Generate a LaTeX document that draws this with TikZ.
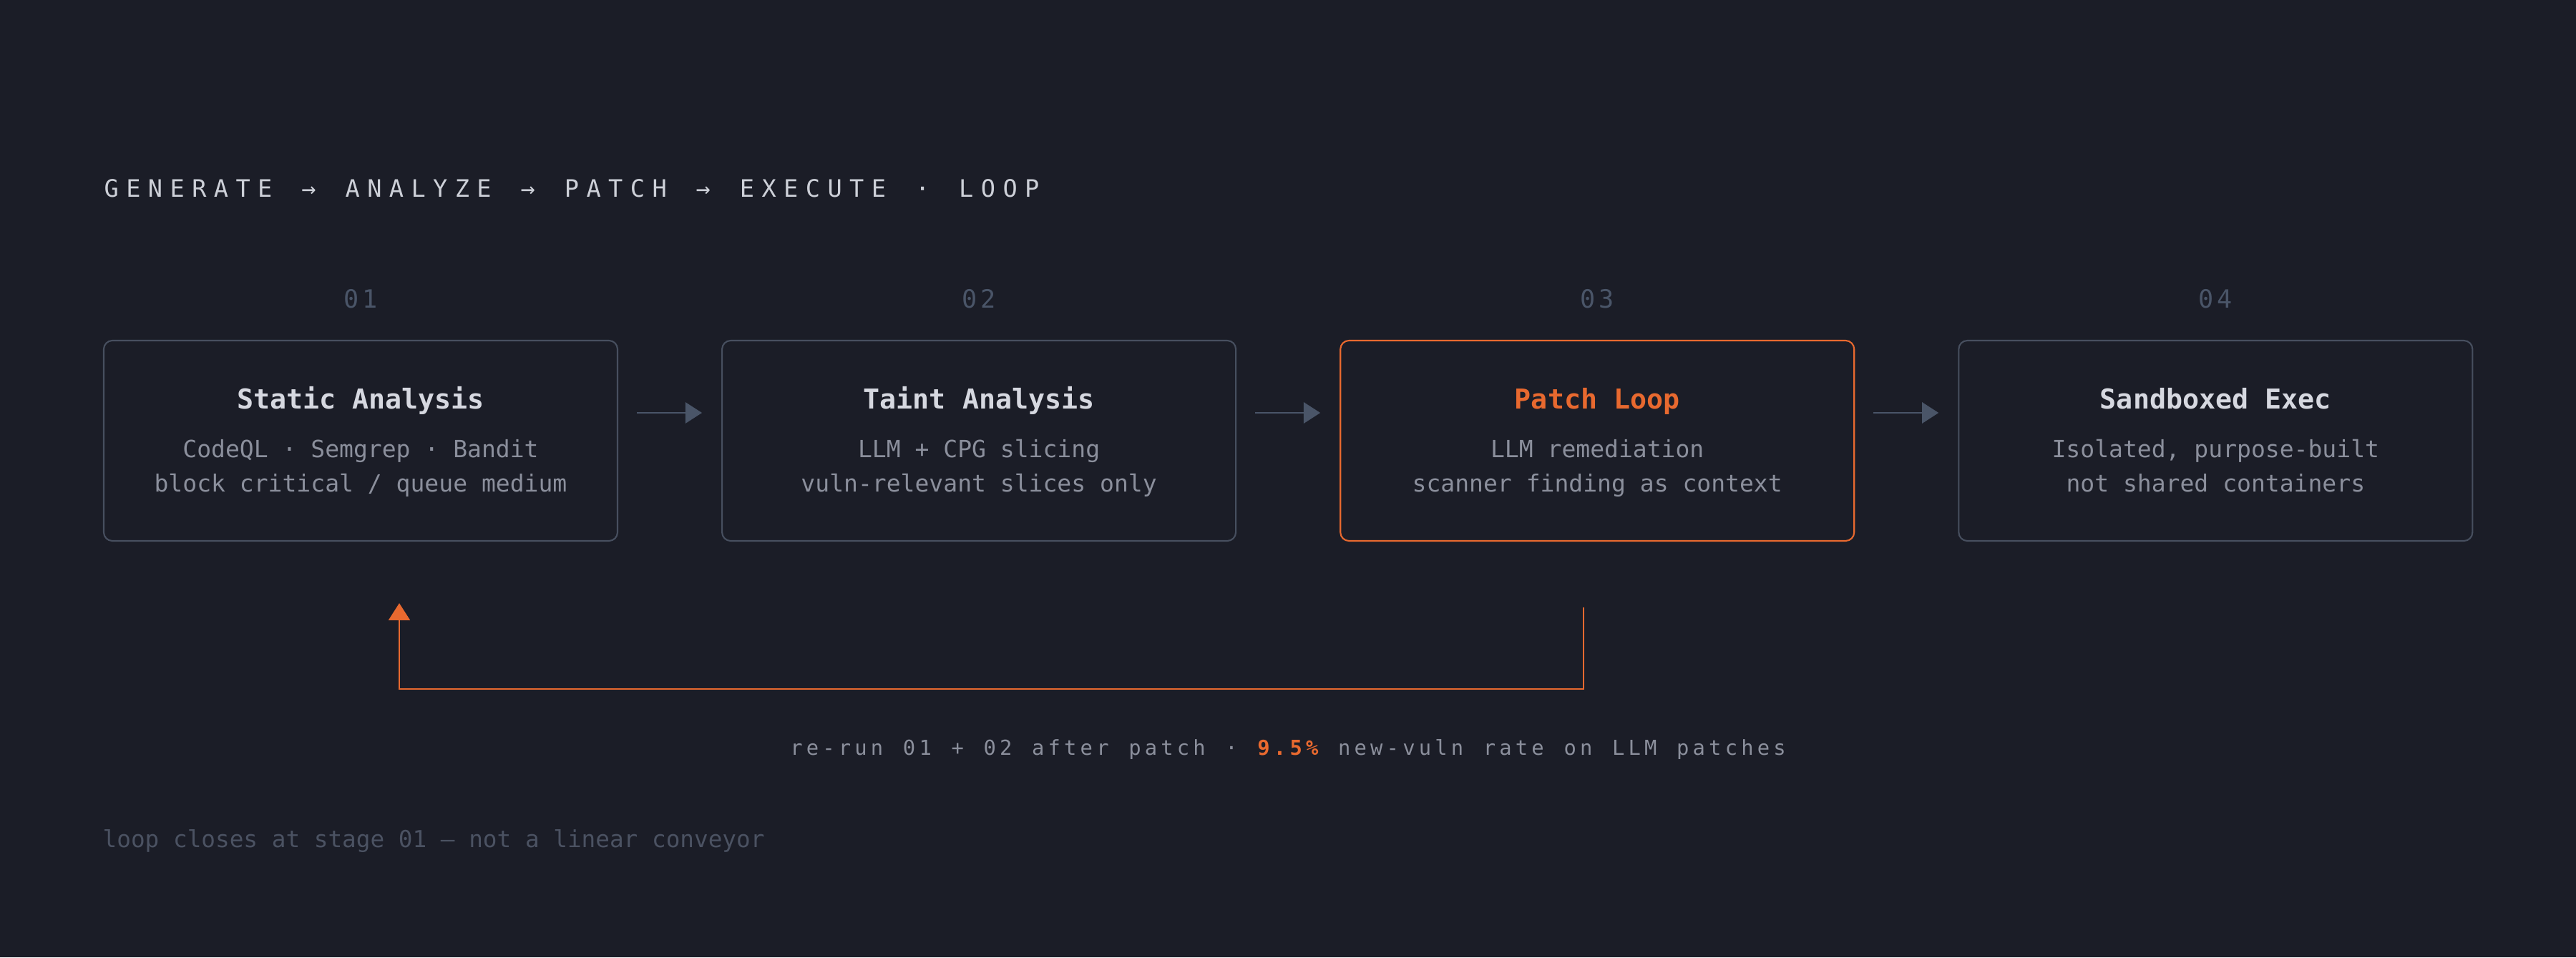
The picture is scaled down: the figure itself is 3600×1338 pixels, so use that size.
\documentclass[tikz,border=0pt]{standalone}
\usepackage{fontspec}
\setmonofont{DejaVu Sans Mono}
\usetikzlibrary{positioning,arrows.meta}
\definecolor{canvas}{HTML}{1B1D27}
\definecolor{edgegray}{HTML}{474F5F}
\definecolor{numgray}{HTML}{4A5568}
\definecolor{accent}{HTML}{E8692F}
\definecolor{headgray}{HTML}{CDD0D8}
\definecolor{titlegray}{HTML}{D6D8E0}
\definecolor{notegray}{HTML}{8B8F9C}
\definecolor{footgray}{HTML}{4B5262}
\begin{document}
\begin{tikzpicture}[x=0.1mm, y=-0.1mm, node distance=14.4mm,
        stage box/.style={rectangle, draw=edgegray, line width=0.6pt, rounded corners=1.2mm, minimum width=71.8mm, minimum height=28mm, inner sep=0pt},
        hot box/.style={stage box, draw=accent},
        stage title/.style={anchor=base, inner sep=0pt, text=titlegray, font=\ttfamily\bfseries\fontsize{10.9}{13}\selectfont},
        stage note/.style={anchor=base, inner sep=0pt, align=center, text=notegray, font=\ttfamily\fontsize{9.4}{13.4}\selectfont},
        stage num/.style={anchor=base, inner sep=0pt, text=numgray, font=\ttfamily\fontsize{10}{12}\selectfont\addfontfeature{LetterSpace=15}},
        headline/.style={anchor=base west, inner sep=0pt, text=headgray, font=\ttfamily\fontsize{9.56}{12}\selectfont\addfontfeature{LetterSpace=31}\spaceskip 1.22em\relax},
        rerun note/.style={anchor=base, inner sep=0pt, text=notegray, font=\ttfamily\fontsize{8.2}{10}\selectfont\addfontfeature{LetterSpace=18}\spaceskip 0.96em\relax},
        foot note/.style={anchor=base west, inner sep=0pt, text=footgray, font=\ttfamily\fontsize{9.3}{12}\selectfont},
        flow arrow/.style={draw=numgray, line width=0.8pt, -{Triangle[length=6.6pt, width=8.3pt]}},
        loop line/.style={draw=accent, line width=0.7pt, -{Triangle[length=6.8pt, width=8.5pt]}}]
    \useasboundingbox (0,0) rectangle (3600,1338);
    \fill[canvas] (0,0) rectangle (3600,1338);

    \node[headline] (head) at (145,275) {GENERATE → ANALYZE → PATCH → EXECUTE · LOOP};

    % the four stages
    \node[stage box] (s1) at (504,616) {};
    \node[stage box] (s2) [right=of s1] {};
    \node[hot box] (s3) [right=of s2] {};
    \node[stage box] (s4) [right=of s3] {};

    \node[stage num] (n1) at ([yshift=4.4mm]s1.north) {01};
    \node[stage num] (n2) at ([yshift=4.4mm]s2.north) {02};
    \node[stage num] (n3) at ([yshift=4.4mm]s3.north) {03};
    \node[stage num] (n4) at ([yshift=4.4mm]s4.north) {04};

    \node[stage title] (t1) at ([yshift=4.5mm]s1.center) {Static Analysis};
    \node[stage title] (t2) at ([yshift=4.5mm]s2.center) {Taint Analysis};
    \node[stage title, text=accent] (t3) at ([yshift=4.5mm]s3.center) {Patch Loop};
    \node[stage title] (t4) at ([yshift=4.5mm]s4.center) {Sandboxed Exec};

    \node[stage note] (d1) at ([yshift=-7.1mm]s1.center) {CodeQL · Semgrep · Bandit\\block critical / queue medium};
    \node[stage note] (d2) at ([yshift=-7.1mm]s2.center) {LLM + CPG slicing\\vuln-relevant slices only};
    \node[stage note] (d3) at ([yshift=-7.1mm]s3.center) {LLM remediation\\scanner finding as context};
    \node[stage note] (d4) at ([yshift=-7.1mm]s4.center) {Isolated, purpose-built\\not shared containers};

    \draw[flow arrow] ([xshift=2.6mm, yshift=3.9mm]s1.east) -- ([xshift=-2.7mm, yshift=3.9mm]s2.west);
    \draw[flow arrow] ([xshift=2.6mm, yshift=3.9mm]s2.east) -- ([xshift=-2.7mm, yshift=3.9mm]s3.west);
    \draw[flow arrow] ([xshift=2.6mm, yshift=3.9mm]s3.east) -- ([xshift=-2.7mm, yshift=3.9mm]s4.west);

    % feedback loop back to stage 01
    \coordinate (loopfrom) at ([xshift=-1.9mm, yshift=-9.2mm]s3.south);
    \coordinate (loopto) at ([xshift=5.4mm, yshift=-8.6mm]s1.south);
    \draw[loop line] (loopfrom) -- ++(0,114) -| (loopto);

    \node[rerun note] (rerun) at (1800,1055) {re-run 01 + 02 after patch · {\bfseries\color{accent}9.5\%} new-vuln rate on LLM patches};
    \node[foot note] (foot) at (143,1184) {loop closes at stage 01 — not a linear conveyor};
\end{tikzpicture}
\end{document}
